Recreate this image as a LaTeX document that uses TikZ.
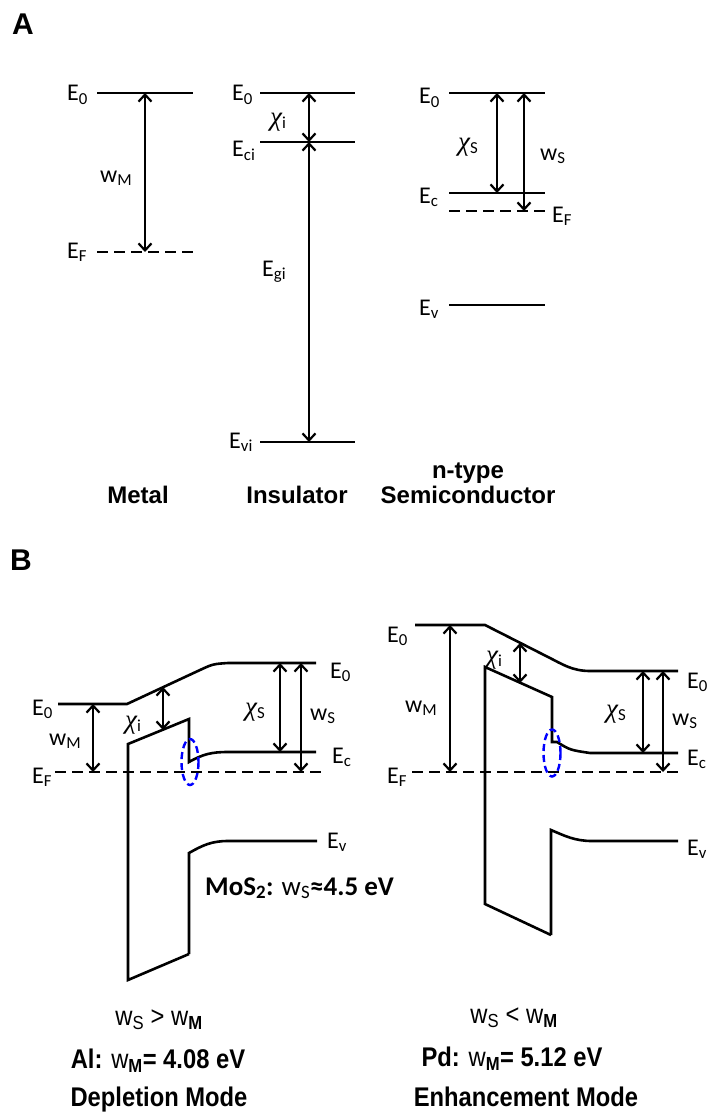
\documentclass[tikz,border=0pt]{standalone}
\usepackage{fontspec}
\setmainfont{Liberation Sans}
\newfontfamily\calfont{Carlito}
\newfontfamily\grkfont{Liberation Serif}
\usetikzlibrary{arrows.meta}
\newcommand\lv[2]{#1\textsubscript{#2}}
\newcommand\chisub[1]{{\grkfont\itshape\fontsize{27}{28}\selectfont χ}\textsubscript{#1}}
\tikzset{
  lvl/.style={line width=2.6pt},
  fermi/.style={lvl, dash pattern=on 11pt off 6pt},
  band/.style={line width=2.6pt, line join=miter},
  gap/.style={{Straight Barb[length=7pt,width=13pt]}-{Straight Barb[length=7pt,width=13pt]}, line width=2.2pt},
  elab/.style={font=\calfont\fontsize{24}{26}\selectfont, inner sep=0pt, anchor=base west},
  ttl/.style={font=\bfseries\fontsize{24}{28}\selectfont, inner sep=0pt, anchor=base},
  panel/.style={font=\bfseries\fontsize{30}{32}\selectfont, inner sep=0pt, anchor=base west},
  spot/.style={draw=blue, dash pattern=on 7pt off 4pt, line width=2.4pt},
  cond/.style={font=\fontsize{27}{30}\selectfont, inner sep=0pt, anchor=base, xscale=0.88}
}
\begin{document}
\begin{tikzpicture}[x=1pt,y=-1pt]
\useasboundingbox (0,0) rectangle (707,1113);
\node[panel] (pA) at (12,35) {A};
\node[panel] (pB) at (10,570) {B};
% A: metal
\draw[lvl] (97,93) -- (193,93);
\draw[fermi] (97,252) -- (193,252);
\coordinate (mT) at (145,93); \coordinate (mB) at (145,252);
\draw[gap] (mT) -- (mB);
\node[elab] (mE0) at (67,101) {\lv{E}{0}};
\node[elab] (mW) at (100,182) {\lv{w}{M}};
\node[elab] (mEF) at (67,258) {\lv{E}{F}};
\node[ttl] (tM) at (138,503) {Metal};
% A: insulator
\draw[lvl] (260,93) -- (355,93);
\draw[lvl] (260,142) -- (355,142);
\draw[lvl] (260,442) -- (355,442);
\coordinate (iT) at (309,93); \coordinate (iC) at (309,142); \coordinate (iV) at (309,442);
\draw[gap] (iT) -- (iC);
\draw[gap] (iC) -- (iV);
\node[elab] (iE0) at (232,101) {\lv{E}{0}};
\node[elab] (iChi) at (270,125) {\chisub{i}};
\node[elab] (iEc) at (232,157) {\lv{E}{ci}};
\node[elab] (iEg) at (262,276) {\lv{E}{gi}};
\node[elab] (iEv) at (229,448) {\lv{E}{vi}};
\node[ttl] (tI) at (297,503) {Insulator};
% A: semiconductor
\draw[lvl] (449,93) -- (545,93);
\draw[lvl] (449,193) -- (545,193);
\draw[fermi] (449,211) -- (545,211);
\draw[lvl] (449,305) -- (545,305);
\coordinate (sT1) at (497,93); \coordinate (sC) at (497,193);
\coordinate (sT2) at (524,93); \coordinate (sF) at (524,211);
\draw[gap] (sT1) -- (sC);
\draw[gap] (sT2) -- (sF);
\node[elab] (sE0) at (419,104) {\lv{E}{0}};
\node[elab] (sChi) at (458,150) {\chisub{S}};
\node[elab] (sW) at (540,160) {\lv{w}{S}};
\node[elab] (sEc) at (419,203) {\lv{E}{c}};
\node[elab] (sEF) at (552,222) {\lv{E}{F}};
\node[elab] (sEv) at (419,315) {\lv{E}{v}};
\node[ttl] (tN) at (468,478) {n-type};
\node[ttl] (tS) at (468,503) {Semiconductor};
% B: depletion (Al)
\draw[lvl] (58,704) -- (127,704) -- (200,670) .. controls (213,664) .. (228,663) -- (316,663);
\draw[fermi] (55,772) -- (322,772);
\draw[band] (189,954) -- (128,980) -- (128,744) -- (189,719) -- (189,762)
  .. controls (203,754) and (212,752) .. (228,752) -- (316,752);
\draw[band] (189,954) -- (189,853) .. controls (203,845) and (212,841) .. (228,841) -- (317,841);
\draw[spot] (190,762) ellipse [x radius=8.5, y radius=23];
\coordinate (aM1) at (93,704); \coordinate (aM2) at (93,772);
\coordinate (aI1) at (163,687); \coordinate (aI2) at (163,730);
\coordinate (aX1) at (280,663); \coordinate (aX2) at (280,752);
\coordinate (aS1) at (301,663); \coordinate (aS2) at (301,772);
\draw[gap] (aM1) -- (aM2);
\draw[gap] (aI1) -- (aI2);
\draw[gap] (aX1) -- (aX2);
\draw[gap] (aS1) -- (aS2);
\node[elab] (aE0) at (32,715) {\lv{E}{0}};
\node[elab] (aW) at (49,745) {\lv{w}{M}};
\node[elab] (aEF) at (32,783) {\lv{E}{F}};
\node[elab] (aChi) at (125,728) {\chisub{i}};
\node[elab] (aChiS) at (245,715) {\chisub{S}};
\node[elab] (aWS) at (310,720) {\lv{w}{S}};
\node[elab] (aE0r) at (330,678) {\lv{E}{0}};
\node[elab] (aEc) at (332,763) {\lv{E}{c}};
\node[elab] (aEv) at (327,848) {\lv{E}{v}};
\node[font=\calfont\bfseries\fontsize{27}{30}\selectfont, inner sep=0pt, anchor=base west] (mos)
  at (205,895) {MoS\textsubscript{2}: {\mdseries w\textsubscript{S}}≈4.5 eV};
\node[cond] (aRel) at (159,1025) {w\textsubscript{S} > w\textsubscript{\textbf{M}}};
\node[cond] (aAl) at (158,1068) {\textbf{Al:} w\textsubscript{\textbf{M}}\textbf{= 4.08 eV}};
\node[cond] (aMode) at (159,1106) {\textbf{Depletion Mode}};
% B: enhancement (Pd)
\draw[lvl] (415,625) -- (485,625) -- (548,657) .. controls (562,664) and (572,671) .. (590,671) -- (678,671);
\draw[fermi] (412,772) -- (680,772);
\draw[band] (551,935) -- (485,904) -- (485,667) -- (552,697) -- (552,742) -- (557,742)
  .. controls (570,750) .. (590,753) -- (678,753);
\draw[band] (551,935) -- (551,830) .. controls (565,836) and (575,841) .. (592,841) -- (678,841);
\draw[spot] (552,753) ellipse [x radius=8.5, y radius=23.5];
\coordinate (bM1) at (450,625); \coordinate (bM2) at (450,772);
\coordinate (bI1) at (520,643); \coordinate (bI2) at (520,683);
\coordinate (bX1) at (643,671); \coordinate (bX2) at (643,753);
\coordinate (bS1) at (663,671); \coordinate (bS2) at (663,772);
\draw[gap] (bM1) -- (bM2);
\draw[gap] (bI1) -- (bI2);
\draw[gap] (bX1) -- (bX2);
\draw[gap] (bS1) -- (bS2);
\node[elab] (bE0) at (387,642) {\lv{E}{0}};
\node[elab] (bW) at (405,712) {\lv{w}{M}};
\node[elab] (bEF) at (387,783) {\lv{E}{F}};
\node[elab] (bChi) at (486,663) {\chisub{i}};
\node[elab] (bChiS) at (606,717) {\chisub{S}};
\node[elab] (bWS) at (672,725) {\lv{w}{S}};
\node[elab] (bE0r) at (687,688) {\lv{E}{0}};
\node[elab] (bEc) at (687,765) {\lv{E}{c}};
\node[elab] (bEv) at (687,855) {\lv{E}{v}};
\node[cond] (bRel) at (514,1023) {w\textsubscript{S} < w\textsubscript{\textbf{M}}};
\node[cond] (bPd) at (512,1066) {\textbf{Pd:} w\textsubscript{\textbf{M}}\textbf{= 5.12 eV}};
\node[cond] (bMode) at (526,1106) {\textbf{Enhancement Mode}};
\end{tikzpicture}
\end{document}
